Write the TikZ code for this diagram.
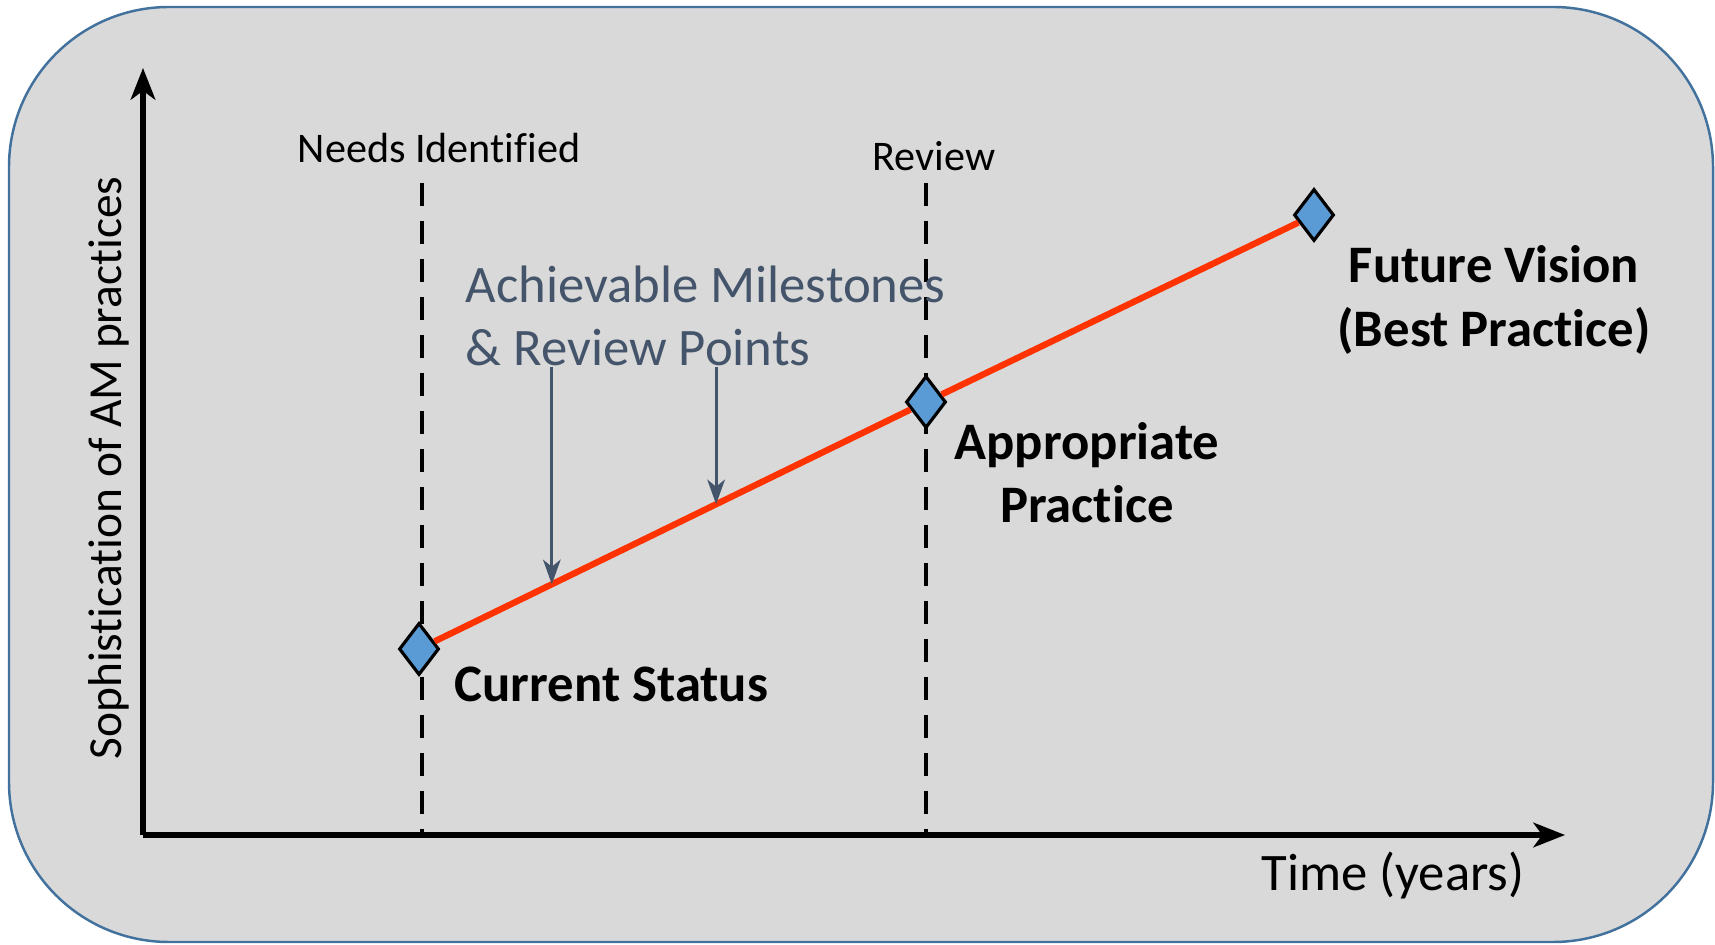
\documentclass[tikz,border=0pt]{standalone}
\usepackage{fontspec}
\setmainfont{Carlito}[RawFeature={-liga;-clig;-calt;-dlig}]
\usepackage{tikz}
\usetikzlibrary{calc}
\usetikzlibrary{arrows.meta}
\usetikzlibrary{shapes.geometric}
\usetikzlibrary{positioning}
\definecolor{panel}{HTML}{D9D9D9}
\definecolor{frame}{HTML}{41719C}
\definecolor{trend}{HTML}{FF3300}
\definecolor{slate}{HTML}{44546A}
\definecolor{marker}{HTML}{5B9BD5}
\tikzset{>=Stealth}
\tikzstyle{axis} = [-{Stealth[length=9pt, width=7pt, inset=2.5pt]}, line width=1.5pt, draw=black]
\tikzstyle{guide} = [line width=1.4pt, dash pattern=on 0.23cm off 0.15cm]
\tikzstyle{stone} = [diamond, draw=black, line width=0.9pt, fill=marker, inner sep=0pt, minimum width=0.40cm, minimum height=0.52cm]
\tikzstyle{point} = [-{Stealth[length=7pt, width=5pt, inset=2pt]}, line width=0.8pt, draw=slate]

\begin{document}
\begin{tikzpicture}
\useasboundingbox (0, 0) rectangle (17.15, 9.44);
\draw [fill=panel, draw=frame, line width=0.7pt, rounded corners=1.6cm] (0.09, 0.02) rectangle (17.13, 9.37);
\coordinate (O) at (1.43, 1.09);
\coordinate (Ytip) at (1.43, 8.76);
\coordinate (Xtip) at (15.65, 1.09);
\coordinate (needtop) at (4.22, 7.61);
\coordinate (revtop) at (9.26, 7.61);
\coordinate (arrowtop) at (0, 5.77);
\draw [guide] (needtop) -- (needtop |- O);
\draw [guide] (revtop) -- (revtop |- O);
\draw [axis] (O) -- (Ytip);
\draw [axis] (O) -- (Xtip);
\node [stone] (cs) at (4.19, 2.95) {};
\node [stone] (ap) at (9.26, 5.42) {};
\node [stone] (fv) at (13.14, 7.29) {};
\draw [draw=trend, line width=1.8pt] (cs) -- (ap) -- (fv);
\node [font=\fontsize{12}{14}\selectfont] (needs) at (4.39, 7.96) {Needs Identified};
\node [font=\fontsize{12}{14}\selectfont] (review) at (9.34, 7.88) {Review};
\node [anchor=west, align=left, text=slate, inner sep=0pt, font=\fontsize{15}{18}\selectfont] (miles) at (4.65, 6.28) {Achievable Milestones\\\& Review Points};
\node [anchor=west, inner sep=0pt, font=\fontsize{15}{18}\selectfont\bfseries] (cslabel) at (4.54, 2.60) {Current Status};
\node [align=center, font=\fontsize{15}{18}\selectfont\bfseries] (aplabel) at (10.87, 4.715) {Appropriate\\Practice};
\node [align=center, font=\fontsize{15}{18}\selectfont\bfseries] (fvlabel) at (14.94, 6.44) {Future Vision\\(Best Practice)};
\node [font=\fontsize{15}{18}\selectfont] (time) at (13.93, 0.69) {Time (years)};
\node [rotate=90, font=\fontsize{13.5}{16}\selectfont] (soph) at (1.09, 4.76) {Sophistication of AM practices};
\coordinate (m1) at ($(cs)!0.262!(ap)$);
\coordinate (m2) at ($(cs)!0.586!(ap)$);
\draw [point] (m1 |- arrowtop) -- (m1);
\draw [point] (m2 |- arrowtop) -- (m2);
\end{tikzpicture}
\end{document}
